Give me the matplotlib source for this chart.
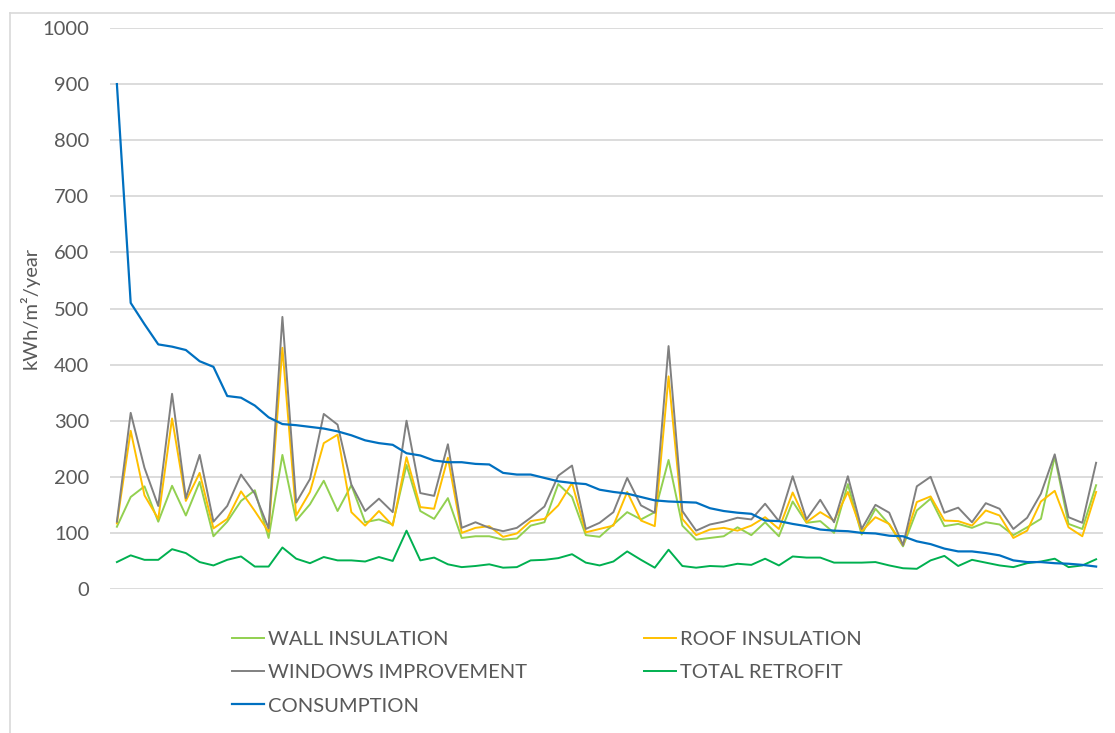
import matplotlib.pyplot as plt
from matplotlib.lines import Line2D

# values, one point per building (72)
consumption = [900, 510, 472, 436, 432, 426, 406, 396, 344, 341, 327, 306, 294, 292, 289, 286, 281, 274,
               265, 260, 257, 242, 238, 229, 226, 226, 223, 222, 207, 204, 204, 198, 192, 189, 187,
               177, 173, 170, 164, 158, 156, 155, 154, 144, 139, 136, 134, 122, 121, 116, 112, 106, 104,
               103, 100, 99, 95, 94, 85, 80, 72, 67, 67, 64, 60, 51, 48, 48, 46, 45, 43, 40]
windows = [120, 314, 216, 148, 348, 162, 239, 120, 148, 204, 170, 108, 485, 154, 196, 312, 293,
           186, 139, 161, 137, 300, 171, 166, 258, 109, 119, 109, 103, 109, 127, 147, 202, 220, 107,
           118, 137, 198, 149, 136, 433, 139, 104, 115, 120, 127, 124, 152, 121, 201, 124, 159, 119,
           201, 107, 150, 136, 78, 183, 200, 136, 145, 119, 153, 143, 107, 127, 170, 240, 128, 118, 225]
roof = [117, 282, 167, 125, 304, 157, 207, 108, 125, 174, 139, 102, 430, 131, 173, 260, 275,
        137, 113, 139, 113, 235, 146, 143, 234, 100, 109, 112, 93, 99, 121, 125, 149, 189, 101,
        107, 113, 173, 122, 112, 379, 125, 96, 106, 109, 104, 113, 128, 107, 172, 119, 137, 122,
        173, 103, 128, 116, 78, 155, 165, 122, 121, 113, 140, 131, 91, 104, 156, 175, 110, 94, 173]
wall = [111, 164, 183, 120, 184, 131, 191, 94, 120, 157, 176, 91, 239, 122, 151, 193, 139,
        185, 119, 124, 115, 221, 139, 125, 162, 91, 94, 94, 88, 90, 113, 119, 187, 164, 96,
        93, 115, 137, 124, 137, 230, 113, 88, 91, 94, 110, 96, 119, 94, 156, 118, 121, 100,
        187, 97, 143, 115, 76, 140, 161, 112, 116, 109, 119, 115, 96, 110, 125, 236, 116, 107, 185]
total = [48, 60, 52, 52, 71, 64, 48, 42, 52, 58, 40, 40, 74, 54, 46, 57, 51,
         51, 49, 57, 50, 104, 51, 56, 44, 39, 41, 44, 38, 39, 51, 52, 55, 62, 47,
         42, 49, 67, 52, 38, 70, 41, 38, 41, 40, 45, 43, 54, 42, 58, 56, 56, 47,
         47, 47, 48, 42, 37, 36, 51, 59, 41, 52, 47, 42, 39, 46, 49, 54, 39, 42, 53]

yticks = list(range(0, 1001, 100))

plt.rcParams['font.family'] = ['Lato', 'DejaVu Sans']
textcol = "#595959"

W, H = 1115, 733
fig = plt.figure(figsize=(W / 100, H / 100), dpi=100)
ax = fig.add_axes([110 / W, 1 - 589 / H, 993 / W, 561 / H])

x = range(len(consumption))
ax.plot(x, wall, color="#92D050", lw=1.4, label="WALL INSULATION")
ax.plot(x, roof, color="#FFC000", lw=1.4, label="ROOF INSULATION")
ax.plot(x, windows, color="#808080", lw=1.4, label="WINDOWS IMPROVEMENT")
ax.plot(x, total, color="#00B050", lw=1.4, label="TOTAL RETROFIT")
ax.plot(x, consumption, color="#0070C0", lw=1.6, label="CONSUMPTION")

ax.set_xlim(-0.5, len(consumption) - 0.5)
ax.set_ylim(0, 1000)
ax.set_yticks(yticks)
ax.set_xticks([])
ax.tick_params(axis="y", length=0, pad=15, labelsize=14.5, labelcolor=textcol)
ax.grid(axis="y", color="#D9D9D9", lw=1.3)
ax.set_axisbelow(True)
for s in ax.spines.values():
    s.set_visible(False)

fig.text(30 / W, 1 - 308 / H, "kWh/m²/year", rotation=90, ha="center", va="center",
         fontsize=14.5, color=textcol)

# legend: column 1 wall/windows/consumption, column 2 roof/total
h, l = ax.get_legend_handles_labels()
order = [0, 2, 4, 1, 3]
fig.legend([h[i] for i in order], [l[i] for i in order], ncol=2, frameon=False,
           loc="upper left", bbox_to_anchor=(232 / W, 1 - 631 / H),
           fontsize=14.5, labelcolor=textcol, handlelength=1.6, handletextpad=0.2,
           columnspacing=5.8, labelspacing=0.8, borderaxespad=0, borderpad=0)

# outer chart border (cropped at right and bottom)
fig.add_artist(Line2D([10 / W, 1], [1 - 13 / H, 1 - 13 / H], transform=fig.transFigure,
                      color="#D9D9D9", lw=1.2))
fig.add_artist(Line2D([10 / W, 10 / W], [0, 1 - 13 / H], transform=fig.transFigure,
                      color="#D9D9D9", lw=1.2))

fig.savefig("out.png", dpi=100)
